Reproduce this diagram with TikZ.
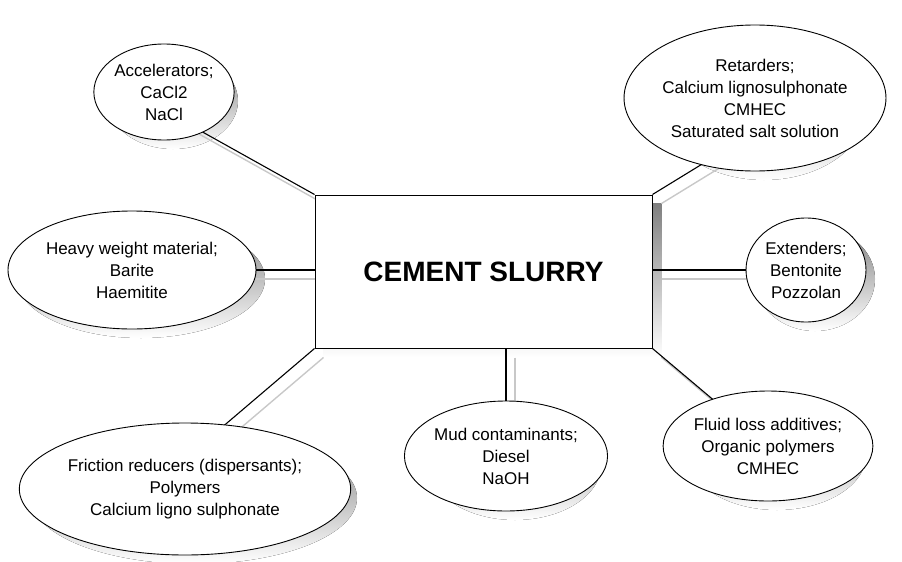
\documentclass[tikz,border=0pt]{standalone}
\usepackage{fontspec}
\setmainfont{Liberation Sans}
\usetikzlibrary{shapes.geometric}
\pgfdeclarelayer{shadow}
\pgfdeclarelayer{lines}
\pgfsetlayers{shadow,lines,main}
\definecolor{shade}{RGB}{212,212,212}
\definecolor{lineshade}{RGB}{200,200,200}
\begin{document}
\begin{tikzpicture}[x=1pt,y=-1pt,
  blob/.style={ellipse, draw=black, line width=0.9pt, fill=white, inner sep=0pt, align=center,
    font=\fontsize{17}{22}\selectfont},
  core/.style={rectangle, draw=black, line width=1pt, fill=white, minimum width=337pt,
    minimum height=153pt, inner sep=0pt, font=\bfseries\fontsize{28}{32}\selectfont},
  link/.style={line width=1.1pt, black},
  linkshadow/.style={line width=1.4pt, lineshade},
]
\useasboundingbox (0,0) rectangle (902,562);
\node[core] (box) at (483.5,271.5) {CEMENT SLURRY};
\node[blob, minimum width=130pt, minimum height=96pt] (acc) at (164,92) {Accelerators;\\CaCl2\\NaCl};
\node[blob, minimum width=206pt, minimum height=146pt] (ret) at (755,98) {Retarders;\\Calcium lignosulphonate\\CMHEC\\Saturated salt solution};
\node[blob, minimum width=248pt, minimum height=118pt] (hvy) at (132,270) {Heavy weight material;\\Barite\\Haemitite};
\node[blob, minimum width=120pt, minimum height=104pt] (ext) at (806,270) {Extenders;\\Bentonite\\Pozzolan};
\node[blob, minimum width=326pt, minimum height=132pt] (fric) at (185,489) {Friction reducers (dispersants);\\Polymers\\Calcium ligno sulphonate};
\node[blob, minimum width=172pt, minimum height=110pt] (mud) at (506,456) {Mud contaminants;\\Diesel\\NaOH};
\node[blob, minimum width=178pt, minimum height=110pt] (fl) at (768,446) {Fluid loss additives;\\Organic polymers\\CMHEC};
% connector anchor points
\coordinate (accin) at (190,125);
\coordinate (retin) at (730,147);
\coordinate (fricin) at (200,446);
\coordinate (hvyb) at (hvy -| box.west);
\coordinate (extb) at (ext -| box.east);
\coordinate (mudb) at (mud |- box.south);
\begin{pgfonlayer}{shadow}
\fill[shade] ([shift={(9,9)}]box.north west) rectangle ([shift={(9,9)}]box.south east);
\fill[shade] ([shift={(9,9)}]acc.center) ellipse [x radius=65pt, y radius=48pt];
\fill[shade] ([shift={(9,9)}]ret.center) ellipse [x radius=103pt, y radius=73pt];
\fill[shade] ([shift={(9,9)}]hvy.center) ellipse [x radius=124pt, y radius=59pt];
\fill[shade] ([shift={(9,9)}]ext.center) ellipse [x radius=60pt, y radius=52pt];
\fill[shade] ([shift={(9,9)}]fric.center) ellipse [x radius=163pt, y radius=66pt];
\fill[shade] ([shift={(9,9)}]mud.center) ellipse [x radius=86pt, y radius=55pt];
\fill[shade] ([shift={(9,9)}]fl.center) ellipse [x radius=89pt, y radius=55pt];
\draw[linkshadow] ([shift={(9,9)}]box.north west) -- ([shift={(9,9)}]accin);
\draw[linkshadow] ([shift={(9,9)}]box.north east) -- ([shift={(9,9)}]retin);
\draw[linkshadow] ([shift={(9,9)}]hvyb) -- ([shift={(9,9)}]hvy.center);
\draw[linkshadow] ([shift={(9,9)}]extb) -- ([shift={(9,9)}]ext.center);
\draw[linkshadow] ([shift={(9,9)}]box.south west) -- ([shift={(9,9)}]fricin);
\draw[linkshadow] ([shift={(9,9)}]mudb) -- ([shift={(9,9)}]mud.center);
\draw[linkshadow] ([shift={(9,9)}]box.south east) -- ([shift={(9,9)}]fl.center);
\end{pgfonlayer}
\begin{pgfonlayer}{lines}
\draw[link] (box.north west) -- (accin);
\draw[link] (box.north east) -- (retin);
\draw[link] (hvyb) -- (hvy.center);
\draw[link] (extb) -- (ext.center);
\draw[link] (box.south west) -- (fricin);
\draw[link] (mudb) -- (mud.center);
\draw[link] (box.south east) -- (fl.center);
\end{pgfonlayer}
\end{tikzpicture}
\end{document}
